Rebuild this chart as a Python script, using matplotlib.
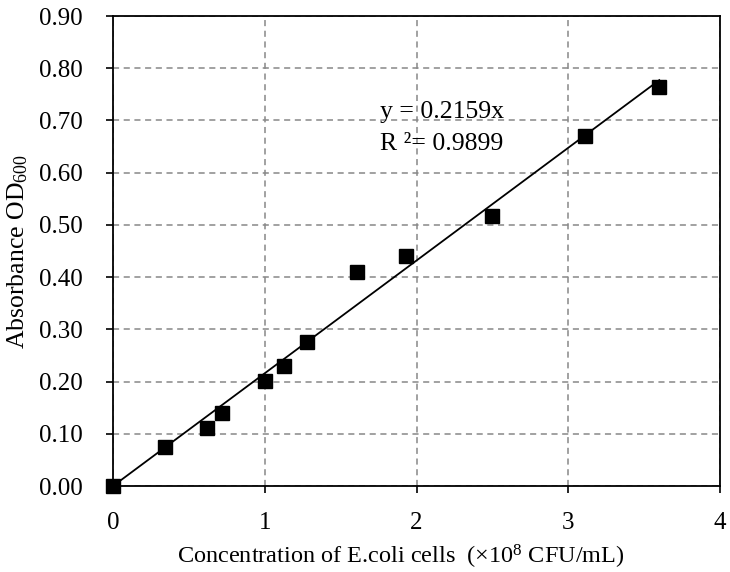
import matplotlib
matplotlib.use("Agg")
import matplotlib.pyplot as plt
import numpy as np

plt.rcParams['font.family'] = ['Liberation Serif', 'DejaVu Serif']
plt.rcParams['mathtext.fontset'] = 'custom'
plt.rcParams['mathtext.rm'] = 'Liberation Serif'
plt.rcParams['mathtext.it'] = 'Liberation Serif:italic'

conc = [0.0, 0.34, 0.62, 0.72, 1.0, 1.13, 1.28, 1.61, 1.93, 2.50, 3.11, 3.60]
od600 = [0.0, 0.075, 0.111, 0.14, 0.201, 0.23, 0.275, 0.41, 0.44, 0.518, 0.67, 0.764]
slope = 0.2159
r2 = 0.9899
xticks = [0, 1, 2, 3, 4]
yticks = [0.0, 0.1, 0.2, 0.3, 0.4, 0.5, 0.6, 0.7, 0.8, 0.9]

fig = plt.figure(figsize=(7.3, 5.72), dpi=100)
ax = fig.add_axes([0.1548, 0.1503, 0.8315, 0.8217])

xfit = np.array([0, max(conc)])
ax.plot(xfit, slope * xfit, color='black', lw=1.3, zorder=3)
ax.plot(conc, od600, 's', color='black', markersize=10.5, zorder=4, clip_on=False)

ax.set_xlim(0, 4)
ax.set_ylim(0, 0.9)
ax.set_xticks(xticks)
ax.set_xticklabels([str(t) for t in xticks])
ax.set_yticks(yticks)
ax.set_yticklabels([f"{t:.2f}" for t in yticks])
ax.tick_params(direction='out', length=5, width=1.2, labelsize=18, colors='black')
ax.tick_params(axis='x', pad=14)
ax.tick_params(axis='y', pad=17)
for s in ax.spines.values():
    s.set_linewidth(1.3)
    s.set_color('black')
ax.grid(True, color='#888888', linestyle=(0, (4, 3)), linewidth=1.1)
ax.set_axisbelow(True)

ax.set_xlabel(r"Concentration of E.coli cells  ($\times$10$^{8}$ CFU/mL)", fontsize=17.5, labelpad=6)
ax.xaxis.label.set_x(0.474)
ax.set_ylabel(r"Absorbance OD$_{600}$", fontsize=18.5, labelpad=6)

ax.text(1.76, 0.716, f"y = {slope}x", fontsize=18.5, va='center', ha='left')
ax.text(1.76, 0.655, f"R ²= {r2}", fontsize=18.5, va='center', ha='left')

fig.savefig("out.png", dpi=100)
